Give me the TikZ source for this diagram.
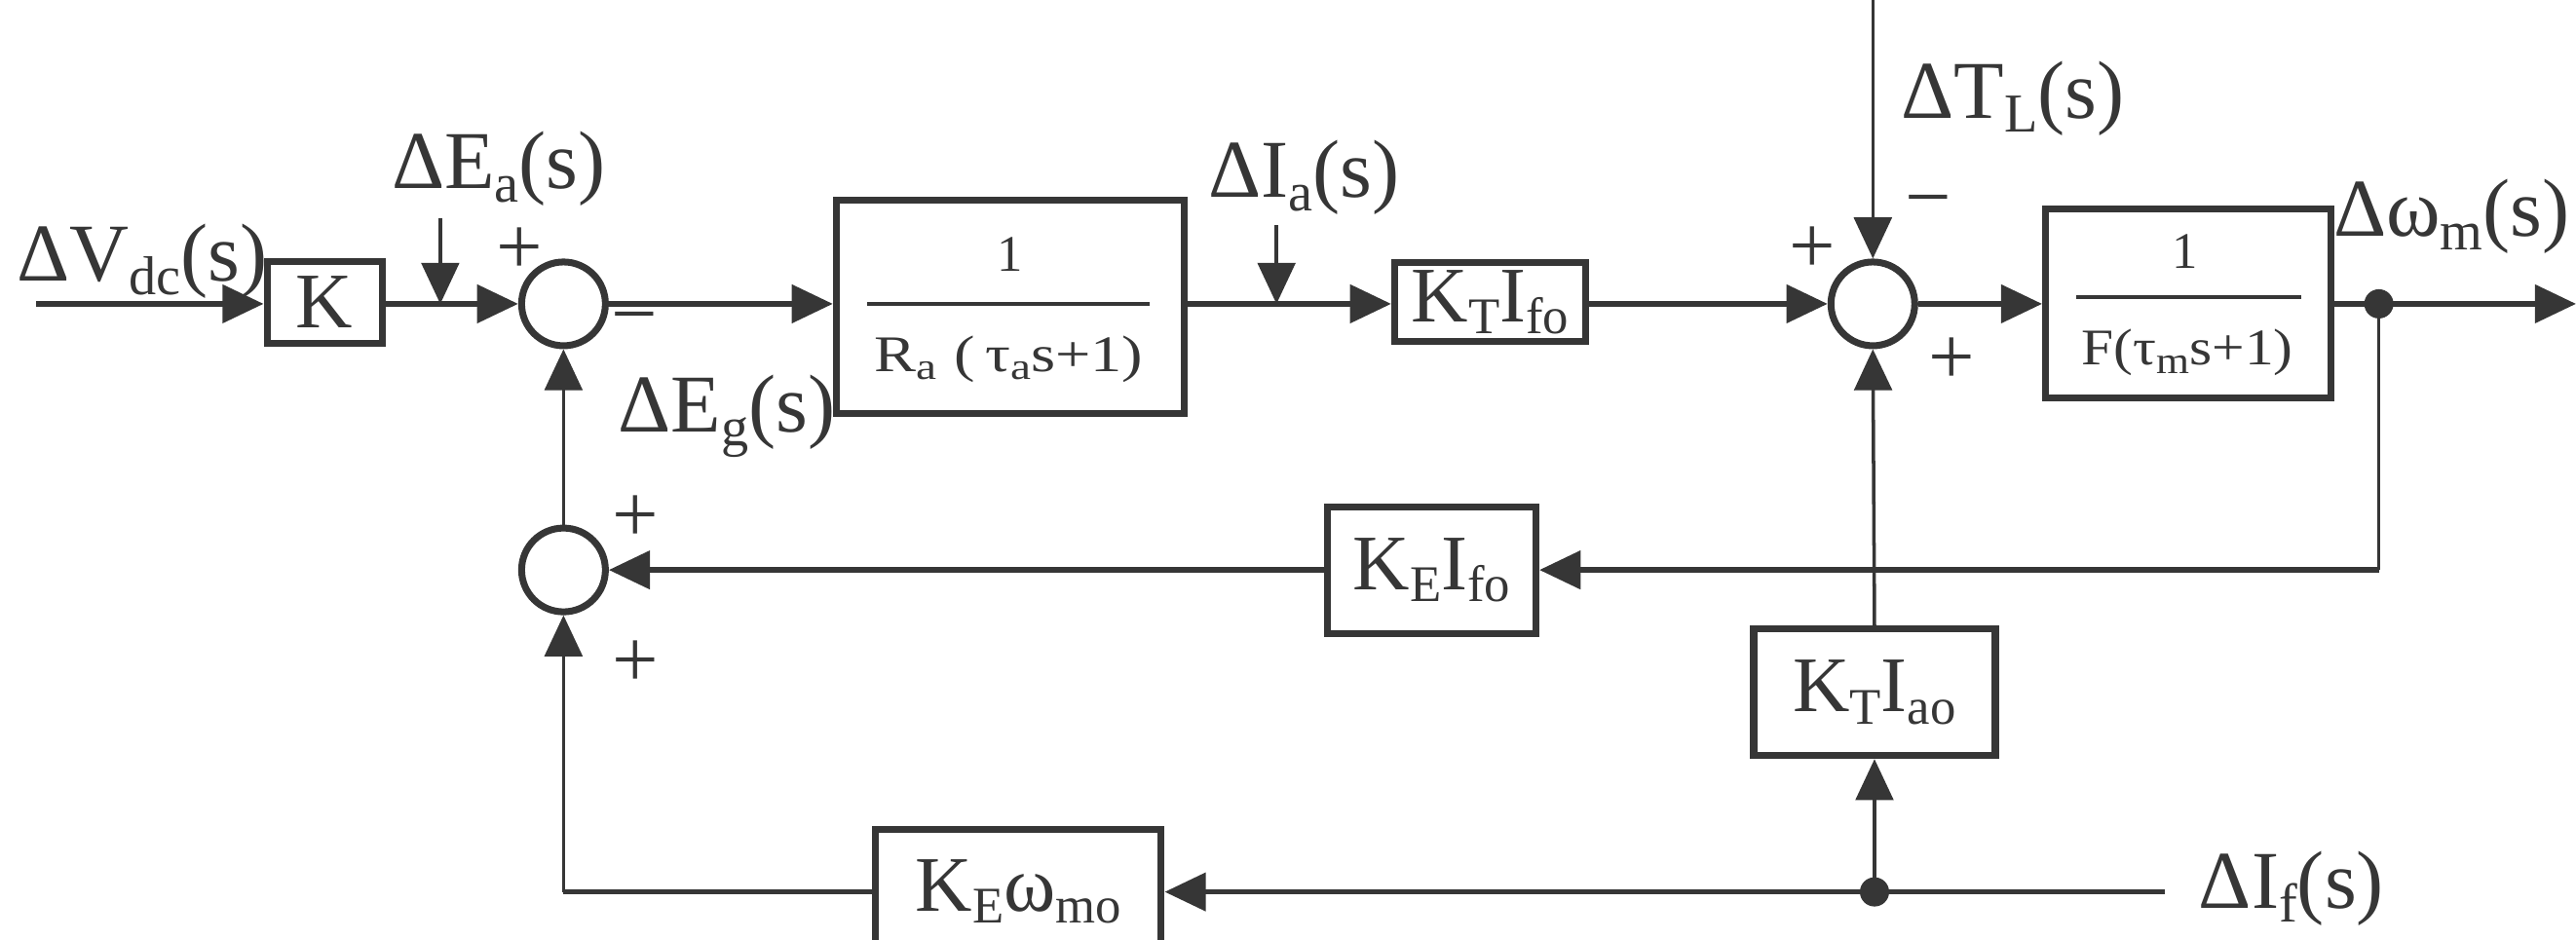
\documentclass[tikz,border=0pt]{standalone}
\usepackage{fontspec}
\usepackage{graphicx}
\setmainfont{Liberation Serif}
\usetikzlibrary{arrows.meta}
\definecolor{ink}{HTML}{363636}
\newcommand{\lo}[1]{\raisebox{-4pt}{\fontsize{16}{16}\selectfont #1}}
\newcommand{\lob}[1]{\raisebox{-3.5pt}{\fontsize{15}{15}\selectfont #1}}
\newcommand{\los}[1]{\raisebox{-2.5pt}{\fontsize{11}{11}\selectfont #1}}
\tikzset{
  blk/.style={draw=ink, line width=2pt, inner sep=0pt, text=ink, font=\fontsize{23}{23}\selectfont},
  sumj/.style={draw=ink, circle, line width=2pt, minimum size=0.86cm, inner sep=0pt},
  lbl/.style={text=ink, inner sep=0pt, anchor=base west, font=\fontsize{24}{24}\selectfont},
  sgn/.style={text=ink, inner sep=0pt, font=\fontsize{24}{24}\selectfont},
  frac/.style={text=ink, inner sep=0pt, font=\fontsize{15}{15}\selectfont},
  fbar/.style={draw=ink, line width=1.1pt},
  wire/.style={draw=ink, line width=1.6pt},
  vwire/.style={draw=ink, line width=1.0pt},
  tip/.style={-{Triangle[length=12pt,width=11pt]}},
  jdot/.style={circle, fill=ink, minimum size=0.3cm, inner sep=0pt}
}
\begin{document}
\begin{tikzpicture}[x=0.01686cm, y=-0.01686cm]
\useasboundingbox (0,0) rectangle (1568,572);
% blocks
\node[blk, minimum width=1.18cm, minimum height=0.84cm] (K) at (197.5,184) {K};
\node[sumj] (s1) at (343,185) {};
\node[blk, minimum width=3.574cm, minimum height=2.19cm] (G1) at (615,187) {};
\node[frac] (G1n) at (615,155) {1};
\node[frac, anchor=base] (G1d) at (614,226) {\resizebox{2.76cm}{\height}{R\los{a}\;(\,τ\los{a}s+1)}};
\node[blk, minimum width=1.96cm, minimum height=0.81cm] (KT) at (907,184) {K\lob{T}I\lob{fo}};
\node[sumj] (s2) at (1140,185) {};
\node[blk, minimum width=2.93cm, minimum height=1.94cm] (G2) at (1332,184.5) {};
\node[frac] (G2n) at (1330,153) {1};
\node[frac, anchor=base] (G2d) at (1331.5,222) {\resizebox{2.17cm}{\height}{F(τ\los{m}s+1)}};
\node[blk, minimum width=2.14cm, minimum height=1.30cm] (KE) at (871.5,347) {K\lob{E}I\lob{fo}};
\node[sumj] (s3) at (343,347) {};
\node[blk, minimum width=2.48cm, minimum height=1.30cm] (KTa) at (1141,421.5) {K\lob{T}I\lob{ao}};
\node[blk, minimum width=2.93cm, minimum height=1.28cm] (KEw) at (620,543) {K\lob{E}ω\lob{mo}};
\node[jdot] (d1) at (1448,185) {};
\node[jdot] (d2) at (1141,543) {};
% fraction bars
\draw[fbar] (528,185) -- (700,185);
\draw[fbar] (1264,181) -- (1401,181);
% free ends
\coordinate (in) at (22,185);
\coordinate (eat) at (268,133);
\coordinate (eaj) at (268,185);
\coordinate (iat) at (777,137);
\coordinate (iaj) at (777,185);
\coordinate (tlt) at (1140,0);
\coordinate (out) at (1568,185);
\coordinate (fbc) at (1448,347);
\coordinate (ifs) at (1318,543);
\coordinate (c3) at (343,543);
% connectors
\draw[wire, tip] (in) -- (K.west |- in);
\draw[wire, tip] (K.east |- s1) -- (s1.west);
\draw[vwire, tip] (eat) -- (eaj);
\draw[wire, tip] (s1.east) -- (s1.east -| G1.west);
\draw[wire, tip] (G1.east |- s1) -- (KT.west |- s1);
\draw[vwire, tip] (iat) -- (iaj);
\draw[wire, tip] (KT.east |- s2) -- (s2.west);
\draw[vwire, tip] (tlt) -- (s2.north);
\draw[wire, tip] (s2.east) -- (s2.east -| G2.west);
\draw[wire, tip] (G2.east |- s2) -- (out);
\draw[vwire] (d1.center) -- (fbc);
\draw[wire, tip] (fbc) -- (KE.east);
\draw[wire, tip] (KE.west) -- (s3.east);
\draw[vwire, tip] (s3.north) -- (s1.south);
\draw[vwire, tip] (KTa.north) -- (s2.south);
\draw[wire, tip] (ifs) -- (KEw.east);
\draw[vwire, tip] (d2.center) -- (KTa.south);
\draw[wire] (KEw.west) -- (c3);
\draw[vwire, tip] (c3) -- (s3.south);
% signs
\node[sgn] (p1) at (316,153) {+};
\node[sgn] (m1) at (386,199) {\char"2212};
\node[sgn] (p2) at (1103,152) {+};
\node[sgn] (m2) at (1174,128) {\char"2212};
\node[sgn] (p3) at (1188,220) {+};
\node[sgn] (p4) at (387,316) {+};
\node[sgn] (p5) at (387,404) {+};
% labels
\node[lbl] (lVdc) at (10,171) {ΔV\lo{dc}(s)};
\node[lbl] (lEa) at (238,115) {ΔE\lo{a}(s)};
\node[lbl] (lEg) at (376,263) {ΔE\lo{g}(s)};
\node[lbl] (lIa) at (735,120) {ΔI\lo{a}(s)};
\node[lbl] (lTL) at (1157,72) {ΔT\lo{L}(s)};
\node[lbl] (lwm) at (1420,144) {Δω\lo{m}(s)};
\node[lbl] (lIf) at (1338,553) {ΔI\lo{f}(s)};
\end{tikzpicture}
\end{document}
